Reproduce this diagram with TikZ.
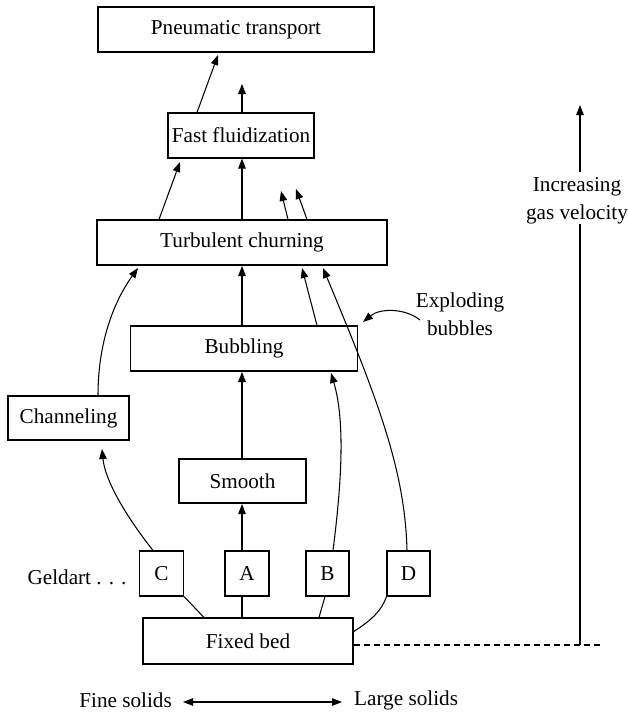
\documentclass[tikz,border=0pt]{standalone}
\usepackage{fontspec}
\setmainfont{Liberation Serif}
\usetikzlibrary{arrows.meta}
\begin{document}
\begin{tikzpicture}[x=1pt,y=-1pt,
  font=\fontsize{21.2}{27.5}\selectfont,
  box/.style={draw,line width=1.1pt,inner sep=0pt,anchor=center},
  lt/.style={line width=1.05pt},
  arr/.style={lt,-{Triangle[length=10pt,width=7.5pt]}},
  txt/.style={inner sep=0pt,align=center}]
\useasboundingbox (0,0) rectangle (627,712);
% boxes
\node[box,minimum width=276pt,minimum height=45pt] (pneu) at (236,29.5) {Pneumatic transport};
\node[box,minimum width=146pt,minimum height=45pt] (fast) at (241,135.5) {Fast fluidization};
\node[box,minimum width=290pt,minimum height=45pt] (turb) at (242,242.5) {Turbulent churning};
\node[box,minimum width=227pt,minimum height=45pt] (bub) at (244,348.5) {Bubbling};
\node[box,minimum width=121pt,minimum height=44pt] (chan) at (68.5,418) {Channeling};
\node[box,minimum width=127pt,minimum height=44pt] (smooth) at (242.5,481) {Smooth};
\node[box,minimum width=44pt,minimum height=45pt] (C) at (161.5,573.5) {C};
\node[box,minimum width=44pt,minimum height=45pt] (A) at (247,573.5) {A};
\node[box,minimum width=43pt,minimum height=45pt] (B) at (327.5,573.5) {B};
\node[box,minimum width=43pt,minimum height=45pt] (D) at (408.5,573.5) {D};
\node[box,minimum width=210pt,minimum height=46pt] (fixed) at (248,641) {Fixed bed};
% texts
\node[txt] (geld) at (77,577) {Geldart . . .};
\node[txt] (expl) at (460,314) {Exploding\\bubbles};
\node[txt] (vel) at (577,201) {Increasing\\gas velocity};
\node[txt,anchor=east] (fine) at (172,700) {Fine solids};
\node[txt,anchor=west] (large) at (354,700) {Large solids};
\coordinate (fasttop) at (242,84);
\coordinate (free1) at (281,191);
\coordinate (free2) at (296,189);
\coordinate (dashend) at (600,645);
\coordinate (veltop) at (580,105);
\coordinate (velbot) at (580,645);
% arrows upward
\draw[arr] (turb.north -| 159,0) -- (180,162);
\draw[arr] (fast.north -| 197,0) -- (218,55);
\draw[arr] (fast.north -| 242,0) -- (fasttop);
\draw[arr] (turb.north -| 242,0) -- (fast.south -| 242,0);
\draw[arr] (turb.north -| 288,0) -- (free1);
\draw[arr] (turb.north -| 307,0) -- (free2);
\draw[arr] (bub.north -| 242,0) -- (242,266);
\draw[arr] (bub.north -| 317,0) -- (302,268);
\draw[arr] (D.north -| 407,0) .. controls (405,470) and (378,400) .. (323,268);
\draw[arr] (B.north -| 333,0) .. controls (342,480) and (345,420) .. (331,373);
\draw[arr] (420,320) .. controls (405,308) and (380,308) .. (363,322);
\draw[arr] (C.north -| 153,0) .. controls (125,515) and (105,480) .. (102,449);
\draw[arr] (chan.north -| 98,0) .. controls (98,340) and (115,300) .. (138,268);
\draw[arr] (smooth.north -| 242,0) -- (242,372);
\draw[arr] (A.north -| 242,0) -- (242,504);
% fixed bed links
\draw[lt] (fixed.north -| 204,0) -- (C.south east);
\draw[lt] (fixed.north -| 242,0) -- (A.south -| 242,0);
\draw[lt] (fixed.north -| 319,0) -- (B.south -| 325,0);
\draw[lt] (353,632) .. controls (372,620) and (382,610) .. (D.south west);
% dashed and velocity arrow
\draw[lt,dash pattern=on 6pt off 4pt] (fixed.east |- 0,645) -- (dashend);
\draw[lt] (velbot) -- (vel.south -| velbot);
\draw[arr] (vel.north -| velbot) ++(0,-6) -- (veltop);
% bottom arrow
\draw[lt,{Triangle[length=10pt,width=7.5pt]}-{Triangle[length=10pt,width=7.5pt]}] (183,702) -- (342,702);
\end{tikzpicture}
\end{document}
